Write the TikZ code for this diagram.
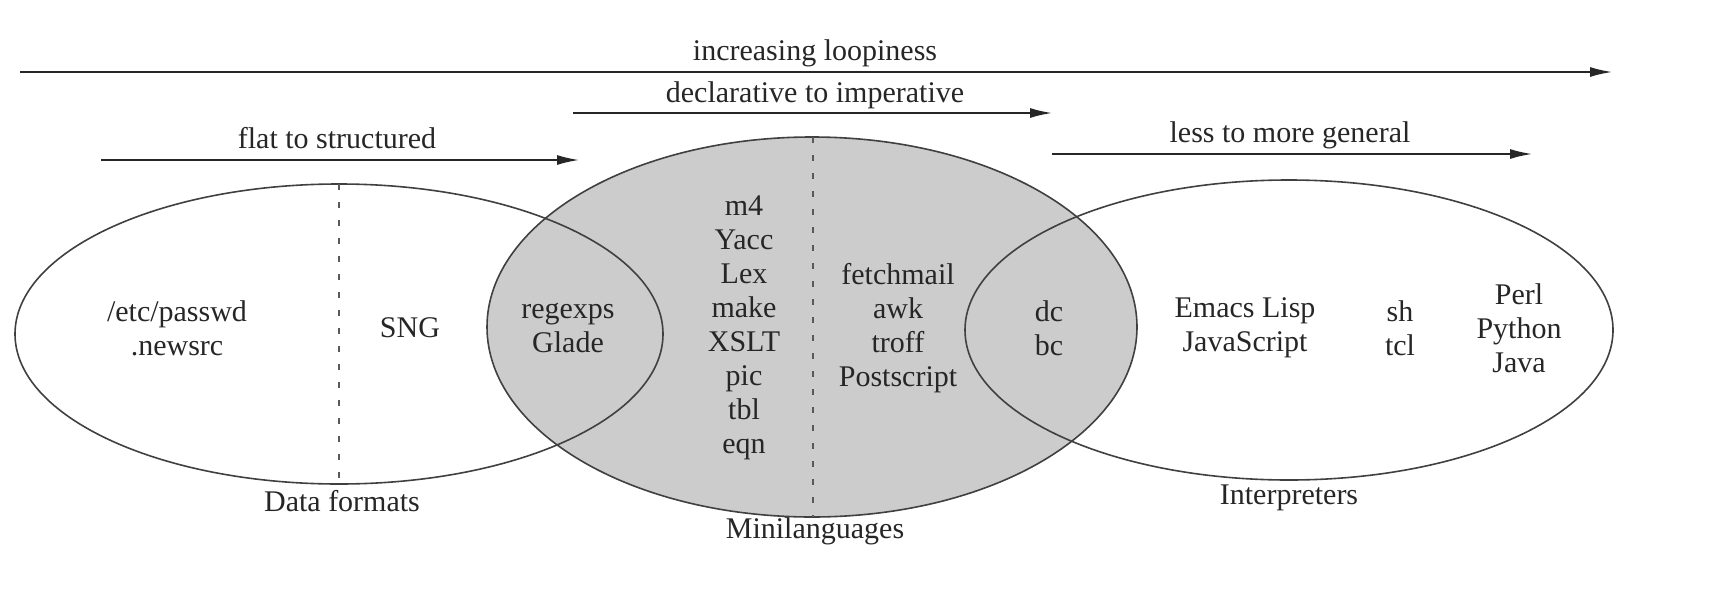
\documentclass[tikz,border=0pt]{standalone}
\usepackage{fontspec}
\setmainfont{Liberation Serif}
\usetikzlibrary{arrows.meta}
\begin{document}
\begin{tikzpicture}[x=0.5pt,y=-0.5pt,
  txt/.style={font=\fontsize{15}{17}\selectfont, align=center, inner sep=0pt, text=black!85},
  outline/.style={draw=black!75, line width=0.8pt},
  divider/.style={draw=black!65, line width=0.7pt, dash pattern=on 3pt off 6pt},
  trend/.style={draw=black!85, line width=0.8pt, -{Latex[length=11pt,width=5pt]}},
  stipple/.style={fill=black!20},
]
\useasboundingbox (0,0) rectangle (1728,600);

% shaded middle ellipse
\fill[stipple] (812,327) ellipse [x radius=325, y radius=190];
% outlines
\draw[outline] (339,334) ellipse [x radius=324, y radius=150];
\draw[outline] (1289,330) ellipse [x radius=324, y radius=150];
\draw[outline] (812,327) ellipse [x radius=325, y radius=190];

% dividers
\coordinate (dlt) at (339,184);
\coordinate (dlb) at (339,484);
\coordinate (dmt) at (813,137);
\coordinate (dmb) at (813,517);
\draw[divider] (dlt) -- (dlb);
\draw[divider] (dmt) -- (dmb);

% trend arrows
\coordinate (a1s) at (20,72);   \coordinate (a1e) at (1612,72);
\coordinate (a2s) at (573,113); \coordinate (a2e) at (1052,113);
\coordinate (a3s) at (101,160); \coordinate (a3e) at (579,160);
\coordinate (a4s) at (1052,154);\coordinate (a4e) at (1532,154);
\draw[trend] (a1s) -- (a1e);
\draw[trend] (a2s) -- (a2e);
\draw[trend] (a3s) -- (a3e);
\draw[trend] (a4s) -- (a4e);
\node[txt, anchor=base] (t1) at (815,60) {increasing loopiness};
\node[txt, anchor=base] (t2) at (815,102) {declarative to imperative};
\node[txt, anchor=base] (t3) at (337,148) {flat to structured};
\node[txt, anchor=base] (t4) at (1290,142) {less to more general};

% contents
\node[txt] (passwd) at (177,328) {/etc/passwd\\.newsrc};
\node[txt] (sng) at (410,328) {SNG};
\node[txt] (regex) at (568,328) {regexps\\Glade};
\node[txt] (mini1) at (744,328) {m4\\Yacc\\Lex\\make\\XSLT\\pic\\tbl\\eqn};
\node[txt] (mini2) at (898,328) {fetchmail\\awk\\troff\\Postscript};
\node[txt] (dcbc) at (1049,328) {dc\\bc};
\node[txt] (emacs) at (1245,328) {Emacs Lisp\\JavaScript};
\node[txt] (shtcl) at (1400,328) {sh\\tcl};
\node[txt] (perl) at (1519,328) {Perl\\Python\\Java};

% labels
\node[txt] (lab1) at (342,501) {Data formats};
\node[txt] (lab2) at (815,531) {Minilanguages};
\node[txt] (lab3) at (1289,498) {Interpreters};
\end{tikzpicture}
\end{document}
